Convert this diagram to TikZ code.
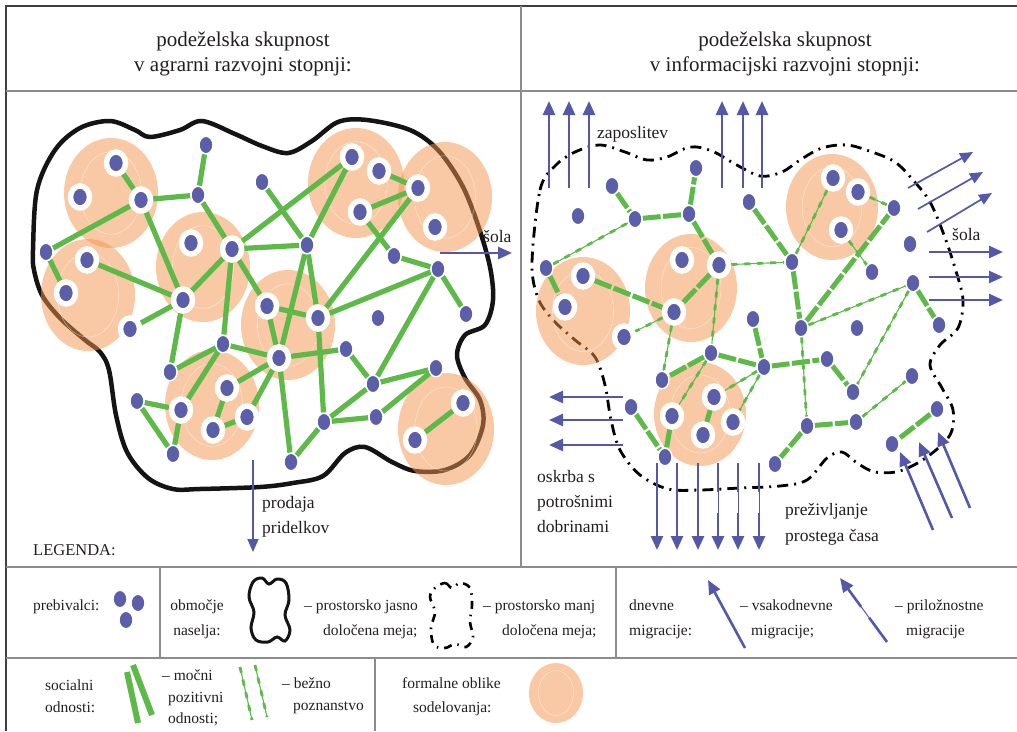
\documentclass[tikz,border=0pt]{standalone}
\usepackage{fontspec}
\setmainfont{Liberation Serif}
\usetikzlibrary{shapes.geometric,arrows.meta,calc}
\pgfdeclarelayer{bg}
\pgfdeclarelayer{edges}
\pgfsetlayers{bg,edges,main}
\definecolor{dotblue}{RGB}{91,94,168}
\definecolor{migblue}{RGB}{85,88,168}
\definecolor{relgreen}{RGB}{94,186,72}
\definecolor{peach}{RGB}{245,147,75}
\definecolor{txt}{RGB}{35,31,32}
\definecolor{gridgray}{RGB}{140,140,140}
\newcommand\mkdot[3]{\node[dot] (#1) at (#2,#3) {};}
\newcommand\mkring[3]{\node[ringdot] (#1) at (#2,#3) {};}
\newcommand\orcirc[4]{%
  \fill[peach, fill opacity=0.5] (#1,#2) ellipse [x radius=#3pt, y radius=#4pt];
  \draw[white, opacity=0.45, line width=0.6pt] (#1,#2) ellipse [x radius=0.65*#3pt, y radius=0.75*#4pt];}
\newcommand\occmig[4]{%
  \draw[migline] (#1) -- ($(#1)!#3!(#2)$);
  \draw[migline, line width=1pt] ($(#1)!#3!(#2)$) -- ($(#1)!#4!(#2)$);
  \draw[mig] ($(#1)!#4!(#2)$) -- (#2);}
\begin{document}
\begin{tikzpicture}[x=1pt,y=-1pt,
  dot/.style={ellipse, fill=dotblue, draw=white, line width=1.4pt, minimum width=14pt, minimum height=17.5pt, inner sep=0pt},
  ringdot/.style={ellipse, fill=dotblue, draw=white, line width=5.5pt, minimum width=19pt, minimum height=22pt, inner sep=0pt},
  strong/.style={draw=relgreen, line width=5.2pt},
  strongd/.style={draw=relgreen, line width=5pt, dash pattern=on 18pt off 2.5pt},
  weak/.style={draw=relgreen, line width=1.1pt, postaction={draw=relgreen, line width=2.8pt, dash pattern=on 6pt off 7pt}},
  migline/.style={draw=migblue, line width=2.6pt},
  mig/.style={draw=migblue, line width=2.6pt, -{Triangle[length=14pt,width=12pt]}},
  migthin/.style={draw=migblue, line width=1.7pt, -{Triangle[length=13pt,width=11pt]}},
  grid/.style={draw=gridgray, line width=1.3pt},
  ttl/.style={text=txt, font=\fontsize{21}{25}\selectfont, inner sep=0pt, anchor=base},
  lab/.style={text=txt, font=\fontsize{17.5}{25}\selectfont, inner sep=0pt, anchor=base west},
  leg/.style={text=txt, font=\fontsize{15.5}{22}\selectfont, inner sep=0pt, anchor=base west},
  legc/.style={text=txt, font=\fontsize{15.5}{22}\selectfont, inner sep=0pt, anchor=base}]
\useasboundingbox (0,0) rectangle (1017,731);
\begin{pgfonlayer}{bg}
\fill[white] (0,0) rectangle (1017,731);
% frame
\draw[draw=black!75, line width=1.6pt] (6,731) -- (6,6) -- (1017,6);
\draw[grid] (6,91) -- (1017,91);
\draw[grid] (521,6) -- (521,567);
\draw[grid] (6,567) -- (1017,567);
\draw[grid] (6,658) -- (1017,658);
\draw[grid] (160,567) -- (160,658);
\draw[grid] (616,567) -- (616,658);
\draw[grid] (375,658) -- (375,731);
% left boundary
\draw[black!92, line width=4.5pt] plot[smooth cycle, tension=0.55] coordinates {
 (33,250) (37,190) (55,150) (80,128) (110,121) (135,130) (150,137) (180,130) (202,121)
 (235,134) (262,146) (288,153) (312,141) (338,122) (367,120) (410,130) (438,150) (462,185)
 (478,225) (490,267) (493,300) (485,325) (465,335) (457,355) (465,378) (480,400) (483,425)
 (470,455) (445,470) (415,471) (392,462) (365,447) (345,453) (323,476) (293,483) (260,487)
 (200,489) (173,489) (148,478) (127,452) (116,415) (109,370) (100,352) (85,340) (60,318)
 (42,295) (34,270)};
% right boundary
\draw[black, line width=2.8pt, dash pattern=on 11pt off 6pt on 2pt off 6pt] plot[smooth cycle, tension=0.55] coordinates {
 (532,263) (540,190) (555,166) (575,152) (600,145) (625,152) (647,160) (667,157) (690,147)
 (712,151) (735,164) (760,176) (782,172) (800,160) (822,148) (847,145) (872,152) (895,162)
 (913,180) (930,202) (944,235) (955,268) (963,300) (958,328) (940,345) (930,365) (942,388)
 (953,410) (950,435) (927,457) (900,471) (875,472) (857,463) (842,452) (827,458) (807,480)
 (780,486) (740,488) (700,490) (668,489) (640,475) (620,450) (611,420) (605,385) (595,357)
 (575,340) (553,320) (538,298)};
% orange circles
\orcirc{111}{193}{47}{55}
\orcirc{88}{295}{47}{56}
\orcirc{203}{267}{47}{55}
\orcirc{288}{325}{47}{55}
\orcirc{356}{183}{48}{55}
\orcirc{445}{197}{47}{55}
\orcirc{212}{405}{47}{55}
\orcirc{446}{429}{48}{56}
\orcirc{583}{311}{47}{54}
\orcirc{691}{288}{46}{54}
\orcirc{832}{207}{46}{53}
\orcirc{700}{414}{46}{52}
\orcirc{556}{693}{27}{30}
\end{pgfonlayer}
% left dots
\mkring{L1}{116}{163} \mkring{L2}{80}{197} \mkring{L3}{141}{200} \mkdot{L4}{206}{145}
\mkdot{L5}{198}{195} \mkdot{L6}{46}{252} \mkring{L7}{87}{260} \mkring{L8}{66}{293}
\mkring{L9}{191}{243} \mkring{L10}{232}{249} \mkring{L11}{183}{300} \mkring{L12}{130}{329}
\mkdot{L13}{262}{182} \mkring{L14}{352}{157} \mkring{L15}{379}{171} \mkring{L16}{360}{212}
\mkring{L17}{418}{188} \mkring{L18}{435}{227} \mkdot{L19}{307}{245} \mkdot{L20}{394}{256}
\mkdot{L21}{438}{269} \mkdot{L22}{466}{314} \mkring{L23}{267}{306} \mkring{L24}{318}{318}
\mkdot{L25}{378}{318} \mkdot{L26}{223}{344} \mkdot{L27}{170}{372} \mkdot{L28}{137}{401}
\mkring{L29}{181}{410} \mkring{L30}{227}{388} \mkring{L31}{247}{417} \mkring{L32}{213}{430}
\mkdot{L33}{173}{454} \mkring{L34}{279}{358} \mkdot{L35}{346}{349} \mkdot{L36}{436}{368}
\mkdot{L37}{373}{384} \mkdot{L38}{324}{422} \mkdot{L39}{376}{417} \mkring{L40}{415}{440}
\mkring{L41}{463}{403} \mkdot{L42}{291}{462}
% right dots
\mkdot{R1}{612}{186} \mkdot{R2}{578}{216} \mkdot{R3}{635}{219} \mkdot{R4}{689}{214}
\mkdot{R5}{696}{168} \mkdot{R6}{749}{202} \mkdot{R7}{546}{268} \mkring{R8}{583}{276}
\mkring{R9}{565}{307} \mkring{R10}{682}{260} \mkring{R11}{719}{265} \mkring{R12}{674}{312}
\mkdot{R13}{753}{319} \mkring{R14}{833}{178} \mkring{R15}{858}{192} \mkring{R16}{841}{230}
\mkdot{R17}{894}{208} \mkdot{R18}{910}{244} \mkdot{R19}{872}{272} \mkdot{R20}{913}{283}
\mkdot{R21}{792}{262} \mkdot{R22}{801}{328} \mkdot{R23}{857}{328} \mkdot{R24}{939}{325}
\mkring{R25}{624}{337} \mkdot{R26}{711}{353} \mkdot{R27}{764}{367} \mkdot{R28}{662}{380}
\mkring{R29}{714}{397} \mkring{R30}{672}{416} \mkdot{R31}{631}{407} \mkring{R32}{703}{435}
\mkring{R33}{733}{422} \mkdot{R34}{665}{457} \mkdot{R35}{827}{359} \mkdot{R36}{853}{392}
\mkdot{R37}{912}{376} \mkdot{R38}{807}{426} \mkdot{R39}{856}{422} \mkdot{R40}{937}{409}
\mkdot{R41}{892}{444} \mkdot{R42}{775}{464}
% legend dots
\mkdot{D1}{120}{599} \mkdot{D2}{138}{603} \mkdot{D3}{126}{620}
\begin{pgfonlayer}{edges}
\foreach \a/\b in {L1/L3, L3/L5, L4/L5, L3/L6, L6/L8, L3/L11, L7/L11, L11/L12, L5/L10,
  L10/L11, L10/L14, L10/L19, L10/L23, L10/L26, L13/L19, L19/L14, L19/L34, L19/L24,
  L23/L24, L23/L34, L24/L38, L24/L17, L24/L21, L16/L17, L15/L17, L16/L20, L20/L21,
  L21/L22, L21/L37, L11/L27, L26/L27, L26/L29, L26/L34, L34/L30, L34/L31, L34/L35,
  L34/L42, L30/L32, L32/L31, L28/L29, L28/L33, L29/L33, L38/L39, L38/L37, L35/L37,
  L37/L36, L39/L36, L38/L42, L40/L41}
  \draw[strong] (\a) -- (\b);
\foreach \a/\b in {R1/R3, R3/R4, R4/R5, R4/R11, R11/R12, R8/R12, R7/R9, R6/R21, R21/R22,
  R22/R17, R20/R24, R13/R27, R27/R35, R26/R27, R26/R28, R29/R32, R31/R34, R30/R34,
  R35/R36, R38/R39, R38/R42, R40/R41}
  \draw[strongd] (\a) -- (\b);
\foreach \a/\b in {R7/R3, R11/R21, R11/R26, R12/R25, R12/R28, R21/R14, R15/R17, R16/R19,
  R22/R20, R20/R36, R22/R38, R39/R37, R26/R30, R27/R29, R27/R33}
  \draw[weak] (\a) -- (\b);
% legend relation samples
\coordinate (s1a) at (127,672); \coordinate (s1b) at (138,723);
\coordinate (s2a) at (133,665); \coordinate (s2b) at (152,715);
\draw[strong, line width=6pt] (s1a) -- (s1b);
\draw[strong, line width=6pt] (s2a) -- (s2b);
\coordinate (w1a) at (240,667); \coordinate (w1b) at (252,720);
\coordinate (w2a) at (255,665); \coordinate (w2b) at (267,717);
\draw[weak] (w1a) -- (w1b);
\draw[weak] (w2a) -- (w2b);
\end{pgfonlayer}
% legend boundary samples
\draw[black!92, line width=3pt] plot[smooth cycle, tension=0.6] coordinates {
 (253,582) (262,578) (269,584) (277,579) (286,583) (289,600) (285,615) (290,630) (285,641)
 (277,637) (268,642) (256,640) (251,628) (254,612) (249,597)};
\draw[black, line width=2.6pt, dash pattern=on 8pt off 6pt on 1.5pt off 6pt] plot[smooth cycle, tension=0.6] coordinates {
 (435,588) (445,583) (452,588) (460,583) (470,588) (472,605) (470,622) (473,637) (466,647)
 (455,644) (445,648) (434,645) (431,628) (435,612) (430,597)};
% migration arrows, left panel
\coordinate (sl1) at (440,253); \coordinate (sl2) at (512,253);
\draw[mig] (sl1) -- (sl2);
\coordinate (pr1) at (253,460); \coordinate (pr2) at (253,552);
\draw[migthin] (pr1) -- (pr2);
% zaposlitev
\foreach \x [count=\i] in {549,569,589,722,743,762} {
  \coordinate (za\i) at (\x,188); \coordinate (zb\i) at (\x,101);
  \draw[mig] (za\i) -- (zb\i);}
% diagonal up-right
\foreach \xa/\ya/\xb/\yb [count=\i] in {908/188/973/152, 918/209/983/172, 927/232/992/193} {
  \coordinate (da\i) at (\xa,\ya); \coordinate (db\i) at (\xb,\yb);
  \draw[migthin] (da\i) -- (db\i);}
% horizontal right
\foreach \y [count=\i] in {252,277,300} {
  \coordinate (ha\i) at (929,\y); \coordinate (hb\i) at (1003,\y);
  \draw[mig] (ha\i) -- (hb\i);}
% left (oskrba)
\foreach \y [count=\i] in {397,420,445} {
  \coordinate (oa\i) at (623,\y); \coordinate (ob\i) at (549,\y);
  \draw[mig] (oa\i) -- (ob\i);}
% down arrows
\foreach \x [count=\i] in {657,677,698} {
  \coordinate (va\i) at (\x,463); \coordinate (vb\i) at (\x,550);
  \draw[mig] (va\i) -- (vb\i);}
\coordinate (va4) at (718,463); \coordinate (vb4) at (718,550);
\coordinate (va5) at (738,463); \coordinate (vb5) at (738,550);
\coordinate (va6) at (759,463); \coordinate (vb6) at (759,550);
\occmig{va4}{vb4}{0.33}{0.57}
\occmig{va5}{vb5}{0.33}{0.57}
\occmig{va6}{vb6}{0.33}{0.57}
% bottom right up-left
\foreach \xa/\ya/\xb/\yb [count=\i] in {933/530/900/452, 952/518/919/442, 970/508/938/432} {
  \coordinate (ua\i) at (\xa,\ya); \coordinate (ub\i) at (\xb,\yb);
  \draw[mig] (ua\i) -- (ub\i);}
% legend arrows
\coordinate (g1a) at (745,648); \coordinate (g1b) at (708,580);
\draw[mig] (g1a) -- (g1b);
\coordinate (g2a) at (887,642); \coordinate (g2b) at (840,578);
\occmig{g2a}{g2b}{0.38}{0.55}
% titles
\node[ttl] (t1) at (243,46) {podeželska skupnost};
\node[ttl] (t2) at (243,71) {v agrarni razvojni stopnji:};
\node[ttl] (t3) at (785,46) {podeželska skupnost};
\node[ttl] (t4) at (785,71) {v informacijski razvojni stopnji:};
% panel labels
\node[lab] (x1) at (483,242) {šola};
\node[lab] (x2) at (262,508) {prodaja};
\node[lab] (x3) at (262,533) {pridelkov};
\node[lab, font=\fontsize{16.5}{22}\selectfont] (x4) at (33,555) {LEGENDA:};
\node[lab] (x5) at (597,138) {zaposlitev};
\node[lab] (x6) at (952,240) {šola};
\node[lab] (x7) at (537,482) {oskrba s};
\node[lab] (x8) at (537,507) {potrošnimi};
\node[lab] (x9) at (537,532) {dobrinami};
\node[lab] (x10) at (785,515) {preživljanje};
\node[lab] (x11) at (785,541) {prostega časa};
% legend texts
\node[leg] (e1) at (33,610) {prebivalci:};
\node[legc] (e2) at (197,610) {območje};
\node[legc] (e3) at (197,635) {naselja:};
\node[leg] (e4) at (304,610) {– prostorsko jasno};
\node[leg] (e5) at (323,635) {določena meja;};
\node[leg] (e6) at (483,610) {– prostorsko manj};
\node[leg] (e7) at (502,635) {določena meja;};
\node[leg] (e8) at (629,610) {dnevne};
\node[leg] (e9) at (629,635) {migracije:};
\node[leg] (e10) at (740,610) {– vsakodnevne};
\node[leg] (e11) at (751,635) {migracije;};
\node[leg] (e12) at (895,610) {– priložnostne};
\node[leg] (e13) at (906,635) {migracije};
\node[leg] (e14) at (45,690) {socialni};
\node[leg] (e15) at (45,712) {odnosti:};
\node[leg] (e16) at (162,680) {– močni};
\node[leg] (e17) at (168,702) {pozitivni};
\node[leg] (e18) at (168,723) {odnosti;};
\node[leg] (e19) at (282,688) {– bežno};
\node[leg] (e20) at (293,710) {poznanstvo};
\node[leg] (e21) at (402,688) {formalne oblike};
\node[leg] (e22) at (413,712) {sodelovanja:};
\end{tikzpicture}
\end{document}
